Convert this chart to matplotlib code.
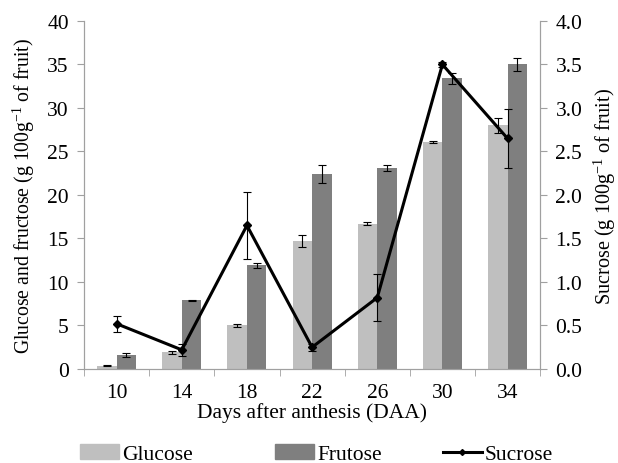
import matplotlib
matplotlib.use("Agg")
import matplotlib.pyplot as plt
import numpy as np
from matplotlib.lines import Line2D
from matplotlib.patches import Patch

plt.rcParams['font.family'] = ['Liberation Serif', 'DejaVu Serif']
plt.rcParams['mathtext.fontset'] = 'custom'
plt.rcParams['mathtext.rm'] = 'Liberation Serif'
plt.rcParams['mathtext.it'] = 'Liberation Serif:italic'

days = ['10', '14', '18', '22', '26', '30', '34']
glucose = [0.4, 1.9, 5.0, 14.7, 16.7, 26.1, 28.0]
glucose_err = [0.05, 0.2, 0.2, 0.7, 0.2, 0.1, 0.9]
frutose = [1.6, 7.9, 11.9, 22.4, 23.1, 33.4, 35.0]
frutose_err = [0.2, 0.05, 0.3, 1.0, 0.3, 0.6, 0.7]
sucrose = [0.52, 0.22, 1.65, 0.25, 0.82, 3.50, 2.65]
sucrose_err = [0.09, 0.07, 0.39, 0.04, 0.27, 0.03, 0.34]

FS = 15.5
fig = plt.figure(figsize=(6.18, 4.64), dpi=100)
ax = fig.add_axes([0.136, 0.2026, 0.738, 0.75])
x = np.arange(len(days))
w = 0.3
gcol = '#bfbfbf'
fcol = '#7f7f7f'
ekw = dict(ecolor='black', elinewidth=0.8, capsize=3, capthick=0.8)
ax.bar(x - w/2, glucose, w, color=gcol, yerr=glucose_err, error_kw=ekw, label='Glucose')
ax.bar(x + w/2, frutose, w, color=fcol, yerr=frutose_err, error_kw=ekw, label='Frutose')
ax.set_xlim(-0.5, len(days) - 0.5)
ax.set_ylim(0, 40)
ax.set_yticks(np.arange(0, 41, 5))
ax.set_xticks(x)
ax.set_xticklabels(days)
ax.set_xticks(np.arange(-0.5, len(days), 1), minor=True)
ax.tick_params(axis='x', which='major', length=0, labelsize=FS, pad=10)
ax.tick_params(axis='x', which='minor', length=5, color='#a0a0a0')
ax.tick_params(axis='y', labelsize=FS, length=5, color='#a0a0a0', pad=6)
ax.spines['top'].set_visible(False)
for s in ['left', 'bottom', 'right']:
    ax.spines[s].set_color('#a0a0a0')
ax.set_xlabel('Days after anthesis (DAA)', fontsize=FS, labelpad=0)
ax.set_ylabel('Glucose and fructose (g 100g$^{\\mathrm{-1}}$ of fruit)', fontsize=14.2, labelpad=7)

ax2 = ax.twinx()
ax2.errorbar(x, sucrose, yerr=sucrose_err, color='black', linewidth=2.2, marker='D', markersize=4.5,
             ecolor='black', elinewidth=0.8, capsize=3, capthick=0.8, label='Sucrose')
ax2.set_ylim(0, 4.0)
ax2.set_yticks(np.arange(0, 4.01, 0.5))
ax2.set_yticklabels([f'{v:.1f}' for v in np.arange(0, 4.01, 0.5)])
ax2.tick_params(axis='y', labelsize=FS, length=5, color='#a0a0a0', pad=6)
ax2.spines['top'].set_visible(False)
for s in ['left', 'bottom', 'right']:
    ax2.spines[s].set_color('#a0a0a0')
ax2.set_ylabel('Sucrose (g 100g$^{\\mathrm{-1}}$ of fruit)', fontsize=14.6, labelpad=7)

entries = [
    (Patch(color=gcol), 'Glucose', 80),
    (Patch(color=fcol), 'Frutose', 275),
    (Line2D([0], [0], color='black', linewidth=2.2, marker='D', markersize=3), 'Sucrose', 443),
]
for h, lab, px in entries:
    fig.legend([h], [lab], loc='center left', bbox_to_anchor=(px / 618, 9 / 464),
               frameon=False, fontsize=FS, borderaxespad=0, borderpad=0,
               handlelength=1.8, handletextpad=0.15)

fig.savefig('out.png', dpi=100)
